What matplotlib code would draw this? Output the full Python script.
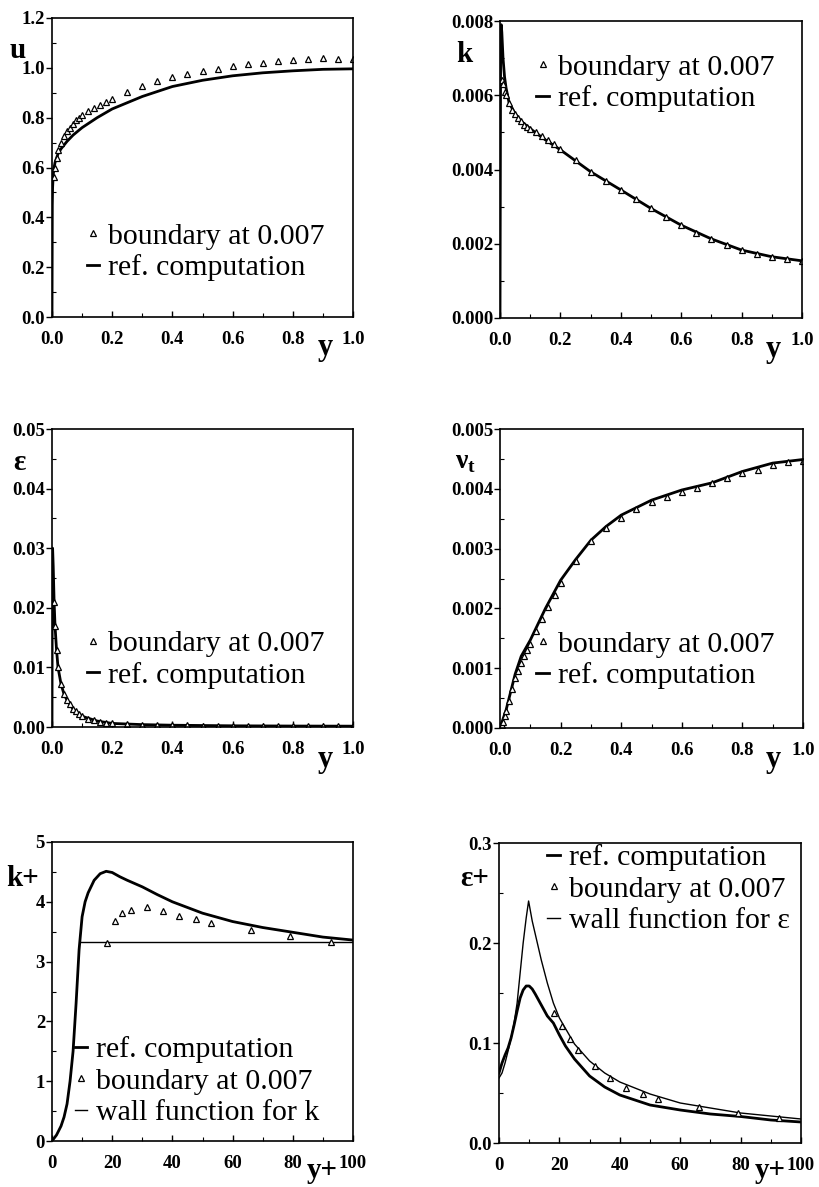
import matplotlib
matplotlib.use("Agg")
import matplotlib.pyplot as plt
from matplotlib.lines import Line2D
from matplotlib.ticker import MultipleLocator

plt.rcParams['font.family'] = ['Liberation Serif', 'DejaVu Serif']

# grid points of the computation with boundary at 0.007
tri_y = [0.007, 0.01, 0.015, 0.02, 0.03, 0.04, 0.05, 0.06, 0.07, 0.08, 0.09, 0.1,
         0.12, 0.14, 0.16, 0.18, 0.2, 0.25, 0.3, 0.35, 0.4, 0.45, 0.5, 0.55, 0.6,
         0.65, 0.7, 0.75, 0.8, 0.85, 0.9, 0.95, 1.0]

# u
u_ref_y = [0, 0.001, 0.002, 0.004, 0.007, 0.01, 0.02, 0.03, 0.05, 0.07, 0.1, 0.15,
           0.2, 0.3, 0.4, 0.5, 0.6, 0.7, 0.8, 0.9, 1.0]
u_ref = [0, 0.45, 0.52, 0.57, 0.60, 0.62, 0.655, 0.675, 0.705, 0.73, 0.76, 0.80,
         0.835, 0.885, 0.925, 0.950, 0.968, 0.980, 0.988, 0.994, 0.996]
u_tri = [0.56, 0.60, 0.64, 0.67, 0.70, 0.725, 0.745, 0.76, 0.775, 0.79, 0.80, 0.81,
         0.825, 0.838, 0.85, 0.862, 0.876, 0.905, 0.928, 0.949, 0.963, 0.976, 0.989,
         0.996, 1.008, 1.015, 1.021, 1.027, 1.032, 1.036, 1.038, 1.037, 1.036]

# k
k_ref_y = [0, 0.002, 0.004, 0.006, 0.01, 0.015, 0.02, 0.03, 0.05, 0.07, 0.1, 0.15,
           0.2, 0.3, 0.4, 0.5, 0.6, 0.7, 0.8, 0.9, 1.0]
k_ref = [0, 0.0070, 0.0079, 0.0077, 0.0070, 0.0065, 0.0062, 0.0058, 0.0055, 0.0053,
         0.0051, 0.0048, 0.00453, 0.00394, 0.00345, 0.00295, 0.00250, 0.00213,
         0.00183, 0.00165, 0.00154]
k_tri = [0.0064, 0.0063, 0.0061, 0.0060, 0.0058, 0.0056, 0.0055, 0.0054, 0.0053,
         0.0052, 0.00515, 0.0051, 0.0050, 0.0049, 0.0048, 0.0047, 0.00455, 0.00425,
         0.00394, 0.0037, 0.00345, 0.0032, 0.00295, 0.00272, 0.0025, 0.0023, 0.00213,
         0.00197, 0.00183, 0.00173, 0.00165, 0.00159, 0.00154]

# epsilon
eps_ref_y = [0, 0.001, 0.002, 0.004, 0.007, 0.01, 0.015, 0.02, 0.03, 0.04, 0.05, 0.07,
             0.1, 0.15, 0.2, 0.3, 0.4, 0.5, 0.6, 0.7, 0.8, 0.9, 1.0]
eps_ref = [0.0, 0.030, 0.030, 0.027, 0.021, 0.017, 0.013, 0.0100, 0.0072, 0.0055,
           0.0045, 0.0030, 0.0018, 0.0010, 0.0006, 0.0004, 0.0003, 0.00025, 0.0002,
           0.00018, 0.00016, 0.00015, 0.00014]
eps_tri = [0.021, 0.017, 0.013, 0.0100, 0.0072, 0.0055, 0.0045, 0.0038, 0.0031,
           0.0027, 0.0022, 0.0018, 0.0014, 0.0011, 0.0009, 0.0007, 0.0006, 0.0005,
           0.0004, 0.00035, 0.0003, 0.00028, 0.00025, 0.00022, 0.0002, 0.00019,
           0.00018, 0.00017, 0.00016, 0.00015, 0.00015, 0.00014, 0.00014]

# nu_t
nut_ref_y = [0, 0.01, 0.02, 0.05, 0.07, 0.1, 0.15, 0.2, 0.25, 0.3, 0.35, 0.4, 0.5,
             0.6, 0.7, 0.8, 0.9, 1.0]
nut_ref = [0, 0.00015, 0.0003, 0.0009, 0.0012, 0.00147, 0.00200, 0.00247, 0.00282,
           0.00314, 0.00337, 0.00356, 0.00381, 0.00398, 0.00410, 0.00429, 0.00443,
           0.00449]
nut_tri = [0.00005, 0.0001, 0.0002, 0.00028, 0.00045, 0.00065, 0.00083, 0.00095,
           0.00108, 0.0012, 0.0013, 0.0014, 0.00163, 0.00182, 0.00202, 0.00222,
           0.00243, 0.0028, 0.00312, 0.00335, 0.00351, 0.00367, 0.00378, 0.00387,
           0.00395, 0.00402, 0.00410, 0.00418, 0.00426, 0.00432, 0.00440, 0.00444,
           0.00447]

# wall units
tri_yp = [18.3, 21.0, 23.4, 26.2, 31.7, 36.9, 42.2, 47.7, 52.8, 66.1, 79.2, 92.6]

kp_ref_yp = [0, 1.5, 3, 4, 5, 6, 7, 8, 9, 10, 11, 12, 14, 16, 18, 20, 22.5, 25, 30,
             35, 40, 50, 60, 70, 80, 90, 100]
kp_ref = [0, 0.1, 0.25, 0.4, 0.62, 1.0, 1.5, 2.3, 3.2, 3.75, 4.0, 4.15, 4.36, 4.47,
          4.51, 4.49, 4.42, 4.36, 4.25, 4.12, 4.0, 3.81, 3.67, 3.57, 3.49, 3.41, 3.36]
kp_tri = [3.31, 3.68, 3.82, 3.87, 3.91, 3.85, 3.77, 3.71, 3.65, 3.53, 3.43, 3.33]
kp_wall_yp = [9.5, 100]
kp_wall = [3.33, 3.33]

ep_ref_yp = [0, 1, 2, 3, 4, 5, 6, 7, 8, 9, 10, 11, 12, 14, 16, 18, 20, 22, 25, 30,
             35, 40, 50, 60, 70, 80, 90, 100]
ep_ref = [0.070, 0.080, 0.088, 0.095, 0.105, 0.118, 0.132, 0.145, 0.153, 0.157,
          0.157, 0.154, 0.149, 0.138, 0.127, 0.120, 0.108, 0.097, 0.084, 0.067,
          0.056, 0.048, 0.038, 0.033, 0.029, 0.0265, 0.023, 0.021]
ep_wall_yp = [0, 1, 2, 3, 4, 5, 6, 7, 8, 9, 9.8, 11, 12, 14, 16, 18, 20, 25, 30, 35,
              40, 50, 60, 70, 80, 90, 100]
ep_wall = [0.065, 0.070, 0.080, 0.092, 0.105, 0.120, 0.140, 0.170, 0.200, 0.225,
           0.242, 0.222, 0.209, 0.183, 0.160, 0.140, 0.125, 0.099, 0.082, 0.070,
           0.061, 0.049, 0.040, 0.035, 0.030, 0.027, 0.024]
ep_tri = [0.130, 0.117, 0.104, 0.093, 0.077, 0.065, 0.055, 0.049, 0.044, 0.036,
          0.030, 0.025]

y_ticks = [0.0, 0.2, 0.4, 0.6, 0.8, 1.0]
y_ticklabels = ["0.0", "0.2", "0.4", "0.6", "0.8", "1.0"]
yp_ticks = [0, 20, 40, 60, 80, 100]
yp_ticklabels = ["0", "20", "40", "60", "80", "100"]

W, H = 819, 1187
fig = plt.figure(figsize=(W / 100, H / 100), dpi=100)


def make_axes(left, top, right, bottom):
    return fig.add_axes([left / W, 1 - bottom / H, (right - left) / W, (bottom - top) / H])


def ftext(px, py, s, **kw):
    fig.text(px / W, 1 - py / H, s, ha='center', va='center', **kw)


def style(ax, xt, xtl, yt, ytl, xminor, yminor):
    ax.set_xticks(xt)
    ax.set_xticklabels(xtl)
    ax.set_yticks(yt)
    ax.set_yticklabels(ytl)
    ax.set_xlim(xt[0], xt[-1])
    ax.set_ylim(yt[0], yt[-1])
    ax.xaxis.set_minor_locator(MultipleLocator(xminor))
    ax.yaxis.set_minor_locator(MultipleLocator(yminor))
    ax.tick_params(axis='x', which='major', direction='in', length=4, width=1, pad=10)
    ax.tick_params(axis='y', which='major', direction='out', length=4, width=1, pad=1)
    ax.tick_params(which='minor', direction='in', length=3, width=0.8)
    for lab in ax.get_xticklabels() + ax.get_yticklabels():
        lab.set_fontsize(13.5)
        lab.set_fontweight('bold')
    for sp in ax.spines.values():
        sp.set_linewidth(1.2)


tri_kw = dict(ls='none', marker='^', ms=5, mfc='white', mec='black', mew=0.9)
tri_handle = Line2D([], [], **tri_kw)
ref_handle = Line2D([], [], color='black', lw=2)
thin_handle = Line2D([], [], color='black', lw=1)
leg_kw = dict(frameon=False, loc='upper left', handlelength=0.42, handletextpad=0.3,
              borderpad=0, borderaxespad=0, labelspacing=0.15,
              prop={'family': 'Liberation Serif', 'size': 21.5})

# u
ax = make_axes(52, 18, 353, 317)
ax.plot(u_ref_y, u_ref, color='black', lw=2)
ax.plot(tri_y, u_tri, **tri_kw)
style(ax, y_ticks, y_ticklabels, [0, 0.2, 0.4, 0.6, 0.8, 1.0, 1.2],
      ["0.0", "0.2", "0.4", "0.6", "0.8", "1.0", "1.2"], 0.1, 0.1)
ax.legend([tri_handle, ref_handle], ["boundary at 0.007", "ref. computation"],
          bbox_to_anchor=(0.115, 0.315), **leg_kw)
ftext(18, 50, "u", fontsize=21, fontweight='bold')
ftext(325, 348, "y", fontsize=22, fontweight='bold')

# k
ax = make_axes(500, 21, 802, 318)
ax.plot(k_ref_y, k_ref, color='black', lw=2)
ax.plot(tri_y, k_tri, **tri_kw)
style(ax, y_ticks, y_ticklabels, [0, 0.002, 0.004, 0.006, 0.008],
      ["0.000", "0.002", "0.004", "0.006", "0.008"], 0.1, 0.001)
ax.legend([tri_handle, ref_handle], ["boundary at 0.007", "ref. computation"],
          bbox_to_anchor=(0.12, 0.89), **leg_kw)
ftext(464, 55, "k", fontsize=21, fontweight='bold')
ftext(773, 349, "y", fontsize=22, fontweight='bold')

# epsilon
ax = make_axes(52, 429, 353, 727)
ax.plot(eps_ref_y, eps_ref, color='black', lw=2)
ax.plot(tri_y, eps_tri, **tri_kw)
style(ax, y_ticks, y_ticklabels, [0, 0.01, 0.02, 0.03, 0.04, 0.05],
      ["0.00", "0.01", "0.02", "0.03", "0.04", "0.05"], 0.1, 0.005)
ax.legend([tri_handle, ref_handle], ["boundary at 0.007", "ref. computation"],
          bbox_to_anchor=(0.115, 0.325), **leg_kw)
ftext(19, 462, "ε", fontsize=21, fontweight='bold')
ftext(325, 759, "y", fontsize=22, fontweight='bold')

# nu_t
ax = make_axes(500, 429, 803, 728)
ax.plot(nut_ref_y, nut_ref, color='black', lw=2)
ax.plot(tri_y, nut_tri, **tri_kw)
style(ax, y_ticks, y_ticklabels, [0, 0.001, 0.002, 0.003, 0.004, 0.005],
      ["0.000", "0.001", "0.002", "0.003", "0.004", "0.005"], 0.1, 0.0005)
ax.legend([tri_handle, ref_handle], ["boundary at 0.007", "ref. computation"],
          bbox_to_anchor=(0.12, 0.325), **leg_kw)
ftext(466, 462, r"ν$_\mathregular{t}$", fontsize=20, fontweight='bold')
ftext(773, 760, "y", fontsize=22, fontweight='bold')

# k+
ax = make_axes(52, 842, 353, 1141)
ax.plot(kp_ref_yp, kp_ref, color='black', lw=2)
ax.plot(kp_wall_yp, kp_wall, color='black', lw=1)
ax.plot(tri_yp, kp_tri, **tri_kw)
style(ax, yp_ticks, yp_ticklabels, [0, 1, 2, 3, 4, 5],
      ["0", "1", "2", "3", "4", "5"], 10, 0.5)
ax.legend([ref_handle, tri_handle, thin_handle],
          ["ref. computation", "boundary at 0.007", "wall function for k"],
          bbox_to_anchor=(0.075, 0.35), **leg_kw)
ftext(23, 878, "k+", fontsize=21, fontweight='bold')
ftext(322, 1170, "y+", fontsize=21, fontweight='bold')

# epsilon+
ax = make_axes(499, 843, 801, 1143)
ax.plot(ep_ref_yp, ep_ref, color='black', lw=2)
ax.plot(ep_wall_yp, ep_wall, color='black', lw=1)
ax.plot(tri_yp, ep_tri, **tri_kw)
style(ax, yp_ticks, yp_ticklabels, [0, 0.1, 0.2, 0.3],
      ["0.0", "0.1", "0.2", "0.3"], 10, 0.05)
ax.legend([ref_handle, tri_handle, thin_handle],
          ["ref. computation", "boundary at 0.007", "wall function for ε"],
          bbox_to_anchor=(0.16, 0.995), **leg_kw)
ftext(475, 878, "ε+", fontsize=21, fontweight='bold')
ftext(770, 1170, "y+", fontsize=21, fontweight='bold')

fig.savefig("out.png", dpi=100)
